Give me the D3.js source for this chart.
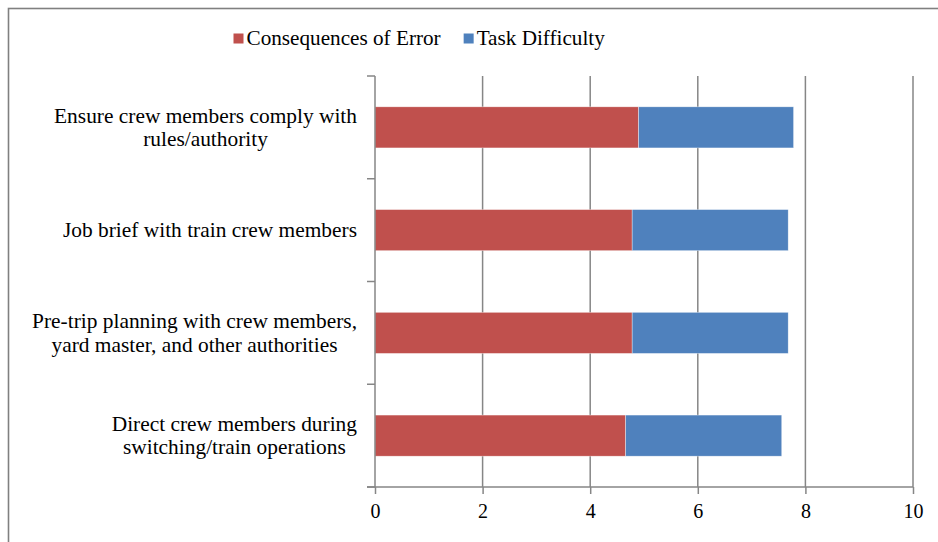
<!DOCTYPE html>
<html>
<head>
<meta charset="utf-8">
<script src="https://cdn.jsdelivr.net/npm/d3@7"></script>
<style>
  html, body { margin: 0; padding: 0; background: #fff; }
  svg { display: block; }
</style>
</head>
<body>
<svg id="chart" width="938" height="542"></svg>
<script>
// Tasks, top to bottom; each label split into its printed lines
const categories = [
  ["Ensure crew members comply with", "rules/authority"],
  ["Job brief with train crew members"],
  ["Pre-trip planning with crew members,", "yard master, and other authorities"],
  ["Direct crew members during", "switching/train operations"]
];
const seriesNames = ["Consequences of Error", "Task Difficulty"];
const consequences = [4.90, 4.78, 4.78, 4.66];
const difficulty   = [2.88, 2.90, 2.90, 2.90];
const xTicks = [0, 2, 4, 6, 8, 10];

const colors = ["#C0504D", "#4F81BD"];
const axisGray = "#868686";
const FONT = '"Liberation Serif"';

const svg = d3.select("#chart");
const W = 938, H = 542;

// outer chart frame
svg.append("rect")
  .attr("x", 8.5).attr("y", 8.5)
  .attr("width", W + 10).attr("height", H + 10)
  .attr("fill", "#fff").attr("stroke", "#808080").attr("stroke-width", 1.6);

const plot = { left: 375, right: 913, top: 76, bottom: 487 };

const x = d3.scaleLinear().domain([0, 10]).range([plot.left, plot.right]);
const keys = categories.map((c, i) => i);
const y = d3.scaleBand().domain(keys).range([plot.top, plot.bottom]).paddingInner(0.6).paddingOuter(0.3);
const yb = d3.scaleBand().domain(keys).range([plot.top, plot.bottom]);

// vertical gridlines
svg.append("g").selectAll("line")
  .data(xTicks.filter(t => t > 0))
  .join("line")
  .attr("x1", d => x(d)).attr("x2", d => x(d))
  .attr("y1", plot.top).attr("y2", plot.bottom)
  .attr("stroke", axisGray).attr("stroke-width", 1.5);

// stacked bars
const rows = keys.map(i => ({ i, a: consequences[i], b: difficulty[i] }));
const stack = d3.stack().keys(["a", "b"])(rows);
svg.append("g").selectAll("g")
  .data(stack)
  .join("g")
  .attr("fill", (d, k) => colors[k])
  .selectAll("rect")
  .data(d => d)
  .join("rect")
  .attr("x", d => x(d[0]))
  .attr("width", d => x(d[1]) - x(d[0]))
  .attr("y", d => y(d.data.i))
  .attr("height", y.bandwidth())
  .attr("stroke", "rgba(255,255,255,0.6)")
  .attr("stroke-width", 0.6);

// x axis
const xAxis = svg.append("g")
  .attr("transform", `translate(0,${plot.bottom})`)
  .call(d3.axisBottom(x).tickValues(xTicks).tickSize(7).tickSizeOuter(0).tickPadding(10));
xAxis.attr("font-family", null).attr("font-size", null);
xAxis.select(".domain").remove();
xAxis.append("line")
  .attr("x1", plot.left - 8).attr("x2", plot.right)
  .attr("stroke", axisGray).attr("stroke-width", 1.5);
xAxis.selectAll(".tick line").attr("stroke", axisGray).attr("stroke-width", 1.5);
xAxis.selectAll(".tick text")
  .style("font-family", FONT)
  .style("font-size", "20px")
  .attr("fill", "#000");

// y axis line with category boundary ticks
const yAxis = svg.append("g");
yAxis.append("line")
  .attr("x1", plot.left).attr("x2", plot.left)
  .attr("y1", plot.top).attr("y2", plot.bottom)
  .attr("stroke", axisGray).attr("stroke-width", 1.5);
const bounds = keys.map(i => yb(i)).concat([plot.bottom]);
yAxis.selectAll("line.b")
  .data(bounds)
  .join("line")
  .attr("class", "b")
  .attr("x1", plot.left - 8).attr("x2", plot.left)
  .attr("y1", d => d).attr("y2", d => d)
  .attr("stroke", axisGray).attr("stroke-width", 1.5);

// category labels: block right-aligned, lines centred within the block
const labelRight = 357;
const lineH = 23.5;
categories.forEach((lines, i) => {
  const g = svg.append("g");
  const t = g.selectAll("text")
    .data(lines)
    .join("text")
    .style("font-family", FONT)
    .style("font-size", "21.4px")
    .attr("text-anchor", "middle")
    .attr("fill", "#000")
    .text(d => d);
  let maxW = 0;
  t.each(function () { maxW = Math.max(maxW, this.getComputedTextLength()); });
  const cy = y(i) + y.bandwidth() / 2;
  const first = cy - (lines.length - 1) * lineH / 2 + 7;
  t.attr("x", labelRight - maxW / 2)
   .attr("y", (d, j) => first + j * lineH);
});

// legend
const legend = svg.append("g").attr("transform", "translate(233.5,0)");
let lx = 0;
seriesNames.forEach((name, k) => {
  legend.append("rect")
    .attr("x", lx).attr("y", 33.5)
    .attr("width", 10).attr("height", 10)
    .attr("fill", colors[k]);
  const t = legend.append("text")
    .attr("x", lx + 13).attr("y", 44.5)
    .style("font-family", FONT)
    .style("font-size", "21.2px")
    .attr("fill", "#000")
    .text(name);
  lx += 13 + t.node().getComputedTextLength() + 23;
});
</script>
</body>
</html>
